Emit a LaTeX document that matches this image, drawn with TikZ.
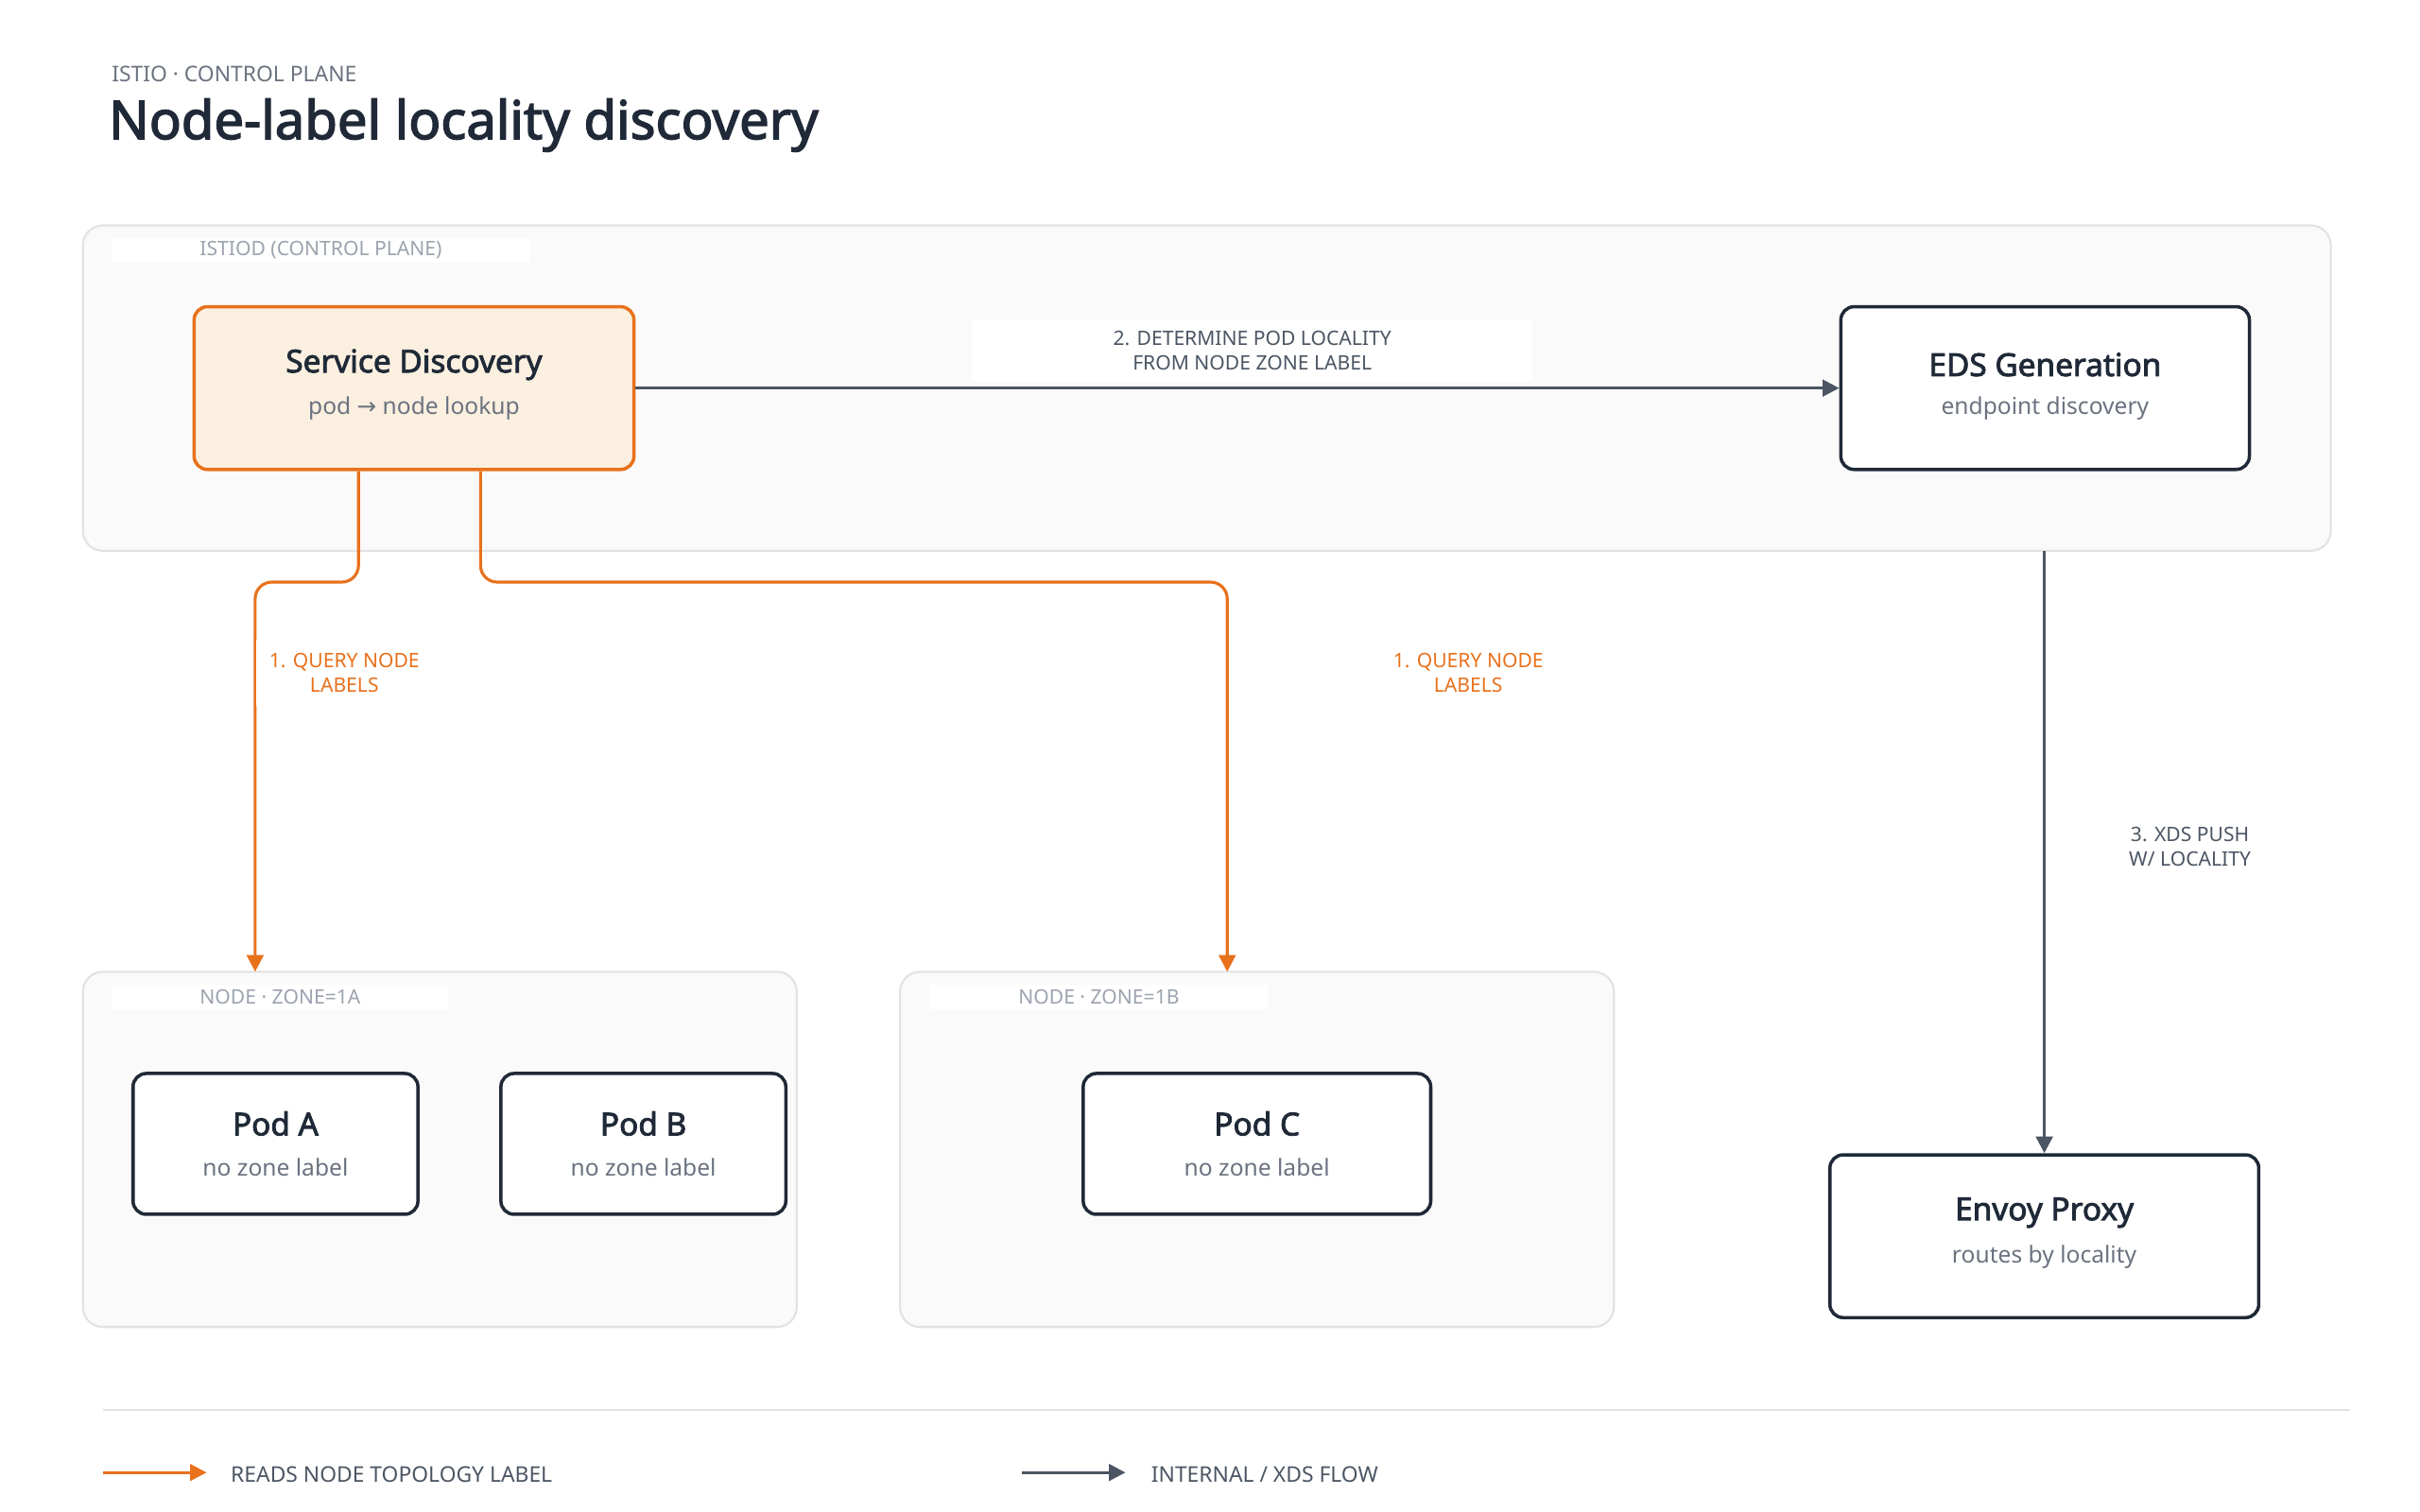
\documentclass[tikz,border=0pt]{standalone}
\usepackage{fontspec}
\setmainfont{Noto Sans}[BoldFont={Noto Sans},BoldFeatures={FakeBold=2.5}]
\newfontfamily\symfont{DejaVu Sans}
\usetikzlibrary{arrows.meta,positioning,calc}
\definecolor{ink}{HTML}{1F2937}
\definecolor{muted}{HTML}{6B7280}
\definecolor{faint}{HTML}{9CA3AF}
\definecolor{accent}{HTML}{E8711C}
\definecolor{flow}{HTML}{4B5563}
\definecolor{panel}{HTML}{FAFAFA}
\definecolor{edge}{HTML}{E2E2E2}
\definecolor{warm}{HTML}{FBF0E0}
\newcommand\pxu{0.01656cm}
\begin{document}
\begin{tikzpicture}[x=0.01656cm,y=-0.01656cm,
    group/.style ={draw=edge, fill=panel, rounded corners=6pt, line width=0.6pt},
    grouptag/.style ={fill=white, text=faint, font=\fontsize{6}{7}\selectfont, inner sep=1pt},
    box/.style   ={draw=ink, fill=white, rounded corners=4pt, line width=1pt, align=center},
    boxname/.style  ={font=\bfseries\fontsize{9.5}{11}\selectfont, text=ink},
    boxnote/.style  ={font=\fontsize{7}{8}\selectfont, text=muted},
    steplbl/.style  ={font=\fontsize{6}{7.5}\selectfont, align=center},
    reads/.style ={draw=accent, line width=0.9pt, rounded corners=5pt, -{Triangle[length=5pt,width=5pt]}},
    xds/.style   ={draw=flow, line width=0.9pt, -{Triangle[length=5pt,width=5pt]}}]
  \useasboundingbox (0,0) rectangle (1546,966);
  % heading
  \node[anchor=west, text=muted, font=\fontsize{6.5}{8}\selectfont] (eyebrow) at (64,47) {ISTIO · CONTROL PLANE};
  \node[anchor=west, text=ink, font=\bfseries\fontsize{16}{19}\selectfont] (title) at (62,80) {Node-label locality discovery};
  % groups
  \draw[group] (53,144) rectangle (1489,352);
  \coordinate (istiod) at (1306,352);
  \node[grouptag, minimum width=267*\pxu, minimum height=16*\pxu] (lblistiod) at (205,160) {ISTIOD (CONTROL PLANE)};
  \draw[group] (53,621) rectangle (509,848);
  \node[grouptag, minimum width=215*\pxu, minimum height=16*\pxu] (lbla) at (179,637) {NODE · ZONE=1A};
  \draw[group] (575,621) rectangle (1031,848);
  \node[grouptag, minimum width=216*\pxu, minimum height=16*\pxu] (lblb) at (702,637) {NODE · ZONE=1B};
  % components
  \node[box, draw=accent, fill=warm, minimum width=281*\pxu, minimum height=104*\pxu] (sd) at (264.5,248) {};
  \node[boxname] at (264.5,233) {Service Discovery};
  \node[boxnote] at (264.5,261) {pod {\symfont →} node lookup};
  \node[box, minimum width=261*\pxu, minimum height=104*\pxu] (eds) at (1306.5,248) {};
  \node[boxname] at (1306.5,233) {EDS Generation};
  \node[boxnote] at (1306.5,261) {endpoint discovery};
  \node[box, minimum width=182*\pxu, minimum height=90*\pxu] (poda) at (176,731) {};
  \node[boxname] at (176,718) {Pod A};
  \node[boxnote] at (176,746) {no zone label};
  \node[box, minimum width=182*\pxu, minimum height=90*\pxu] (podb) at (411,731) {};
  \node[boxname] at (411,718) {Pod B};
  \node[boxnote] at (411,746) {no zone label};
  \node[box, minimum width=222*\pxu, minimum height=90*\pxu] (podc) at (803,731) {};
  \node[boxname] at (803,718) {Pod C};
  \node[boxnote] at (803,746) {no zone label};
  \node[box, minimum width=274*\pxu, minimum height=104*\pxu] (envoy) at (1306,790) {};
  \node[boxname] at (1306,775) {Envoy Proxy};
  \node[boxnote] at (1306,803) {routes by locality};
  % flows
  \draw[xds] (sd.east) -- (eds.west);
  \node[steplbl, fill=white, text=flow, minimum width=358*\pxu, minimum height=34*\pxu] (s2) at (800,224) {2. DETERMINE POD LOCALITY\\FROM NODE ZONE LABEL};
  \draw[reads] (sd.south -| 229,0) |- (163,372) -- (163,621);
  \node[steplbl, fill=white, text=accent, inner sep=4pt] (s1a) at (220,430) {1. QUERY NODE\\LABELS};
  \draw[reads] (sd.south -| 307,0) |- (784,372) -- (784,621);
  \node[steplbl, text=accent] (s1b) at (938,430) {1. QUERY NODE\\LABELS};
  \draw[xds] (istiod) -- (envoy.north);
  \node[steplbl, text=flow] (s3) at (1399,541) {3. XDS PUSH\\W/ LOCALITY};
  % legend
  \draw[edge, line width=0.6pt] (66,901) -- (1501,901);
  \coordinate (ka) at (66,941);
  \coordinate (kb) at (132,941);
  \draw[reads] (ka) -- (kb);
  \node[anchor=west, text=flow, font=\fontsize{6.5}{8}\selectfont] (leg1) at (140,942) {READS NODE TOPOLOGY LABEL};
  \coordinate (kc) at (653,941);
  \coordinate (kd) at (719,941);
  \draw[xds] (kc) -- (kd);
  \node[anchor=west, text=flow, font=\fontsize{6.5}{8}\selectfont] (leg2) at (728,942) {INTERNAL / XDS FLOW};
\end{tikzpicture}
\end{document}
